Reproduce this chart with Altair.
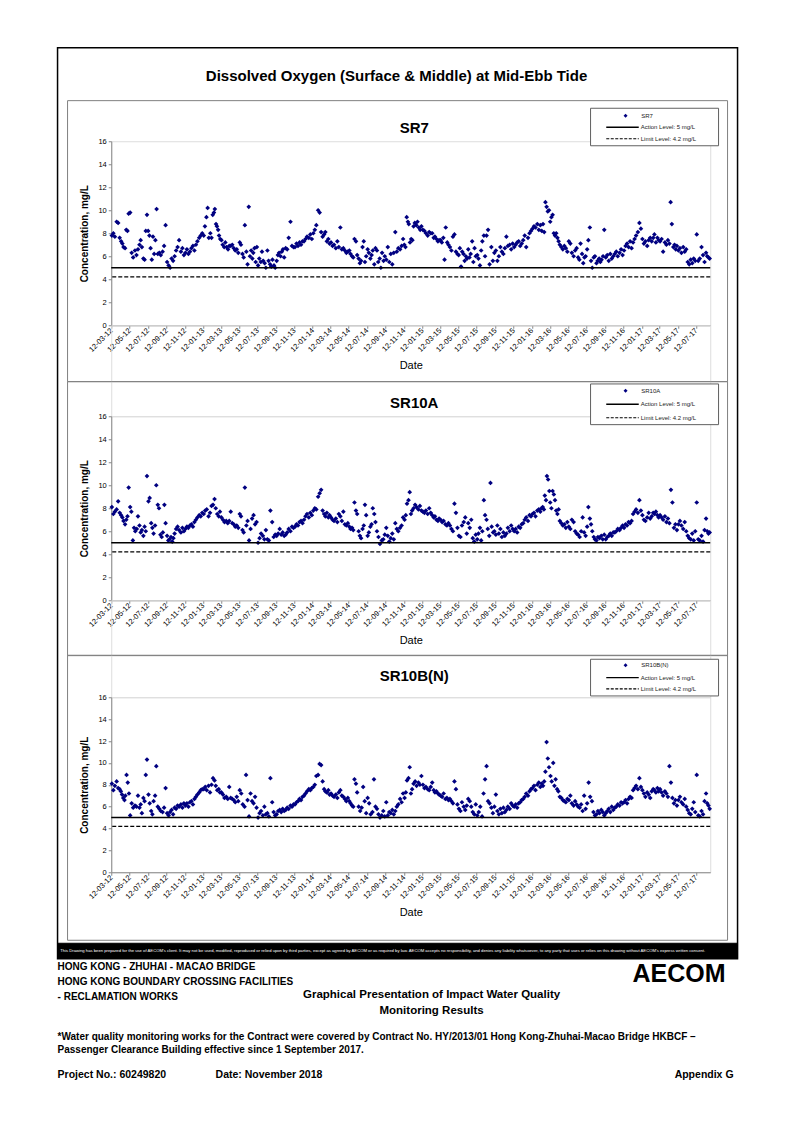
import altair as alt
import pandas as pd

FONT = "Liberation Sans"
NAVY = "#000080"

# ---------------- data ----------------
tick_dates = [
    "2012-03-12", "2012-05-12", "2012-07-12", "2012-09-12", "2012-11-12",
    "2013-01-12", "2013-03-12", "2013-05-12", "2013-07-12", "2013-09-12", "2013-11-12",
    "2014-01-12", "2014-03-12", "2014-05-12", "2014-07-12", "2014-09-12", "2014-11-12",
    "2015-01-12", "2015-03-12", "2015-05-12", "2015-07-12", "2015-09-12", "2015-11-12",
    "2016-01-12", "2016-03-12", "2016-05-12", "2016-07-12", "2016-09-12", "2016-11-12",
    "2017-01-12", "2017-03-12", "2017-05-12", "2017-07-12",
]
x_domain = ["2012-03-12", "2017-08-28"]
action_level = [5.0]
limit_level = [4.2]

# readings per month (month 0 = from 12-03-12), in date order within the month
sr7 = [
    [7.8, 8.0, 7.7, 9.0, 8.9, 7.6], [7.3, 7.1, 6.8, 6.7, 8.3, 8.2, 9.7], [9.8, 6.3, 5.9, 6.5, 6.1, 6.6],
    [7.0, 7.4, 6.8, 5.8, 5.7, 8.2, 9.6], [8.2, 7.8, 6.7, 5.7, 7.7, 6.2, 7.4, 10.1], [6.2, 6.3, 6.1, 6.4, 6.9, 8.7],
    [5.5, 5.2, 5.0, 5.8, 5.6, 6.0], [6.5, 6.8, 7.4, 6.4, 6.7, 6.1], [6.3, 6.6, 6.2, 6.4, 6.7, 6.9],
    [6.5, 7.0, 7.3, 7.6, 7.8, 8.0], [7.8, 8.6, 9.4, 10.2, 7.6, 8.0, 7.6], [9.6, 9.8, 10.1, 8.8, 8.6, 8.3, 7.8, 7.5],
    [7.4, 7.0, 6.8, 7.2, 6.8, 6.6, 6.9], [6.9, 7.0, 6.7, 6.5, 6.6, 6.3], [7.2, 7.0, 6.2, 5.9, 8.7, 6.4, 5.3],
    [10.3, 6.0, 6.5, 5.8, 6.3, 6.7, 5.5, 6.8], [5.2, 5.8, 5.5, 6.4, 5.6, 5.4, 5.0], [6.5, 5.6, 5.3, 5.1, 5.7, 5.2, 5.0],
    [5.6, 6.1, 6.3, 6.0, 6.4, 6.6, 5.9], [6.7, 6.6, 7.6, 9.0, 6.9, 6.8], [6.8, 7.1, 6.9, 7.2, 7.0, 7.3],
    [7.3, 7.5, 7.7, 7.6, 7.9, 7.5], [8.0, 8.3, 8.7, 10.0, 9.8, 8.1], [7.7, 7.9, 8.1, 7.3, 7.5, 7.1],
    [7.2, 6.9, 7.0, 6.7, 7.3, 6.8], [8.5, 6.6, 6.7, 6.5, 6.3, 6.4], [6.5, 6.2, 6.0, 5.9, 7.5, 7.3, 6.1],
    [5.8, 5.4, 5.6, 6.8, 7.3, 5.5, 6.0], [6.6, 6.3, 5.8, 6.1, 6.5, 5.3, 6.7], [6.5, 5.5, 5.8, 5.0, 6.3, 5.6, 6.0],
    [5.7, 6.8, 5.5, 6.2, 5.3, 6.3], [8.1, 6.4, 6.7, 6.6, 6.9, 7.5], [7.0, 6.8, 9.4, 9.0, 8.8, 7.2, 7.5, 7.4],
    [8.6, 8.9, 8.7, 9.0, 8.5, 8.3, 8.6], [8.3, 8.2, 8.0, 7.8, 8.1, 8.0], [8.0, 7.6, 7.7, 7.5, 7.3, 7.4],
    [7.4, 7.2, 7.6, 5.7, 8.5, 7.2, 7.0], [6.8, 6.5, 7.7, 7.9, 6.4, 6.2], [6.1, 6.7, 5.1, 6.4, 6.2, 5.6, 6.0, 5.8],
    [6.6, 5.9, 6.2, 7.3, 5.5, 6.7, 6.0], [6.1, 5.8, 5.2, 6.5, 7.3, 7.8, 6.0], [7.8, 8.3, 5.3, 6.8, 5.6, 6.3],
    [6.5, 5.6, 6.0, 6.8, 6.4, 6.2], [6.7, 7.7, 6.9, 7.0, 6.6, 7.1], [6.8, 7.0, 7.2, 7.3, 6.9, 7.1],
    [7.4, 7.8, 6.8, 7.6, 8.0, 8.2], [8.4, 8.6, 8.5, 8.8, 8.3, 8.7], [8.2, 8.8, 8.1, 10.7, 10.3, 9.9, 10.0],
    [9.0, 9.4, 9.6, 8.0, 7.8, 8.0, 7.6, 7.3], [7.0, 6.8, 6.6, 6.9, 6.7, 6.4], [7.3, 7.1, 6.3, 6.0, 6.5, 6.7],
    [5.9, 5.7, 7.1, 6.2, 5.4, 5.9, 6.0], [6.6, 7.4, 8.5, 5.6, 5.0, 5.9, 6.0], [5.4, 5.6, 5.8, 5.5, 5.7, 6.0, 8.3],
    [5.9, 6.1, 5.6, 6.2, 5.8, 6.0], [6.2, 6.4, 6.0, 6.3, 6.6, 6.1], [6.5, 6.9, 7.1, 6.8, 7.3, 6.7],
    [7.2, 7.5, 7.8, 8.1, 8.9, 8.4], [7.5, 7.1, 7.3, 6.9, 7.4, 7.6], [7.3, 7.6, 7.9, 7.2, 7.6, 7.4],
    [7.3, 7.5, 6.4, 7.2, 7.0, 7.4], [7.1, 10.7, 8.8, 6.8, 7.0, 6.6, 6.9], [6.5, 6.7, 6.3, 6.8, 6.4, 6.6],
    [5.5, 5.3, 5.7, 5.4, 5.8, 5.6], [7.9, 5.6, 5.8, 6.8, 6.1, 5.5], [6.3, 6.0, 5.9, 5.8],
]
sr10a = [
    [8.1, 7.5, 7.7, 7.9, 8.6, 7.6], [7.4, 7.2, 6.9, 6.6, 7.0, 7.3, 9.8], [8.1, 7.7, 5.2, 6.3, 6.0, 6.2, 7.3],
    [6.5, 5.9, 6.1, 5.6, 6.4, 6.0, 10.8], [8.6, 8.9, 6.7, 6.3, 5.8, 6.5, 10.0], [8.3, 8.0, 5.7, 5.5, 5.9, 8.3, 6.7],
    [5.6, 5.2, 5.3, 5.5, 5.1, 5.4, 5.8], [6.2, 6.4, 6.1, 5.9, 6.3, 6.0], [6.2, 6.4, 6.3, 6.5, 6.6, 6.4],
    [6.8, 7.0, 7.2, 7.4, 7.3, 7.6], [7.5, 7.8, 7.9, 7.3, 7.6, 8.2], [8.3, 8.8, 8.0, 7.5, 7.3, 7.7],
    [7.2, 7.0, 6.8, 6.9, 6.7, 6.9], [7.7, 6.7, 6.6, 6.4, 6.5, 6.3], [7.5, 7.3, 6.1, 5.9, 9.8, 6.5, 6.9],
    [5.2, 6.2, 7.1, 7.4, 6.6, 6.8], [5.0, 5.4, 5.8, 5.6, 5.3, 6.1], [5.3, 5.2, 7.8, 6.8, 5.5, 5.7],
    [5.6, 5.8, 6.2, 5.7, 5.9, 5.6], [5.7, 5.9, 6.2, 6.0, 6.4, 6.3], [6.4, 6.6, 6.5, 6.8, 6.9, 6.7],
    [7.0, 7.3, 7.5, 7.2, 7.6, 7.4], [7.8, 8.0, 7.9, 9.0, 9.3, 9.6], [7.8, 7.5, 7.3, 7.6, 7.2, 7.4],
    [7.2, 7.0, 6.9, 7.1, 6.8, 7.5], [7.3, 6.9, 7.7, 6.6, 6.5, 6.7], [6.4, 6.2, 6.3, 6.1, 8.5, 7.8, 7.5],
    [6.0, 5.6, 5.4, 6.2, 6.5, 8.3, 7.4], [5.6, 5.9, 6.4, 6.6, 8.0, 7.5, 6.8], [6.0, 5.5, 4.9, 5.2, 5.3, 5.7],
    [6.3, 5.6, 5.1, 5.4, 5.8, 5.3], [6.7, 6.2, 6.0, 6.3, 6.5, 7.2], [7.0, 7.4, 8.4, 8.7, 9.4, 7.5, 7.8],
    [8.0, 8.3, 8.1, 7.9, 8.2, 7.8], [7.7, 7.6, 7.8, 7.5, 8.0, 7.6], [7.4, 7.2, 7.3, 7.0, 6.9, 7.1],
    [7.0, 6.8, 6.9, 6.6, 6.5, 6.7], [6.5, 6.2, 6.0, 8.4, 7.6, 6.3], [5.6, 5.5, 6.5, 6.8, 7.2, 5.8],
    [6.7, 6.3, 7.0, 5.4, 5.1, 5.7], [5.3, 5.8, 6.3, 5.2, 6.0, 8.7, 7.4], [7.0, 6.2, 5.6, 10.2, 6.4, 5.9, 6.0],
    [5.7, 6.5, 5.8, 6.2, 5.5, 5.9], [5.6, 5.8, 6.3, 6.0, 6.5, 6.2], [6.0, 6.2, 5.9, 6.4, 6.3, 6.6],
    [6.7, 7.0, 7.2, 6.9, 7.4, 7.3], [7.5, 7.6, 7.3, 7.8, 7.9, 7.7], [8.0, 8.1, 7.9, 9.1, 8.7, 10.8, 10.5, 9.5],
    [8.5, 8.0, 9.5, 9.2, 8.7, 7.8, 7.5, 7.9], [6.9, 6.7, 6.5, 6.6, 6.3, 6.8], [6.4, 6.2, 7.0, 6.8, 6.0, 5.8],
    [5.7, 5.5, 6.0, 7.2, 5.9, 5.6], [6.4, 8.1, 7.1, 6.6, 6.0, 5.5, 5.3], [5.2, 5.5, 5.4, 5.6, 5.3, 5.7],
    [5.3, 5.5, 5.6, 5.8, 5.6, 5.9], [5.9, 6.0, 6.2, 6.1, 6.3, 6.5], [6.3, 6.6, 6.5, 6.8, 6.7, 6.9],
    [7.5, 7.7, 7.9, 7.6, 8.7, 7.8], [7.4, 7.0, 6.9, 7.2, 7.6, 7.1], [7.3, 7.6, 7.5, 7.7, 7.4, 7.2],
    [7.4, 7.2, 7.0, 7.3, 6.8, 7.1], [6.7, 9.6, 8.5, 6.3, 6.6, 6.1], [6.6, 6.9, 6.5, 6.2, 6.8, 6.0],
    [5.6, 5.4, 5.3, 5.8, 5.2, 6.0], [8.5, 5.3, 5.2, 5.6, 5.1, 6.1], [7.1, 6.0, 5.8, 5.9],
]
sr10b = [
    [8.1, 7.5, 7.9, 8.3, 7.7, 7.6], [7.4, 7.1, 6.8, 6.6, 7.0, 8.9, 8.2, 7.2], [5.2, 6.3, 5.9, 6.1, 6.0, 7.0],
    [5.9, 6.2, 5.4, 6.8, 6.5, 8.9, 10.3], [7.1, 6.3, 5.6, 5.3, 6.5, 7.0, 9.7], [6.0, 5.8, 5.6, 5.5, 5.9, 7.7],
    [5.4, 5.2, 5.5, 5.7, 5.3, 5.9], [5.8, 6.1, 6.0, 6.2, 5.9, 6.3], [6.1, 6.3, 6.0, 6.4, 6.5, 6.2],
    [6.7, 6.9, 7.1, 7.3, 7.5, 7.6], [7.6, 7.8, 7.5, 7.9, 7.3, 8.0], [8.6, 8.4, 7.9, 7.5, 7.6, 7.3],
    [7.3, 7.1, 6.8, 6.9, 6.7, 7.8], [6.8, 6.7, 6.6, 6.4, 6.9, 6.5], [7.5, 7.2, 6.2, 6.0, 8.9, 6.6],
    [5.1, 7.2, 6.5, 6.3, 6.9, 5.9], [5.0, 5.4, 5.6, 5.2, 6.0, 5.3], [5.4, 5.1, 8.6, 6.4, 5.5, 5.2],
    [5.3, 5.6, 5.7, 5.5, 5.8, 5.6], [5.7, 5.9, 5.8, 6.1, 6.0, 6.2], [6.2, 6.4, 6.5, 6.7, 6.6, 6.9],
    [7.0, 7.2, 7.4, 7.6, 7.5, 7.7], [7.8, 8.0, 8.8, 8.9, 9.9, 9.8], [8.3, 7.6, 7.4, 7.3, 7.5, 7.1],
    [7.2, 7.0, 6.9, 7.1, 6.8, 7.3], [7.5, 7.0, 6.9, 6.7, 6.5, 6.8], [6.5, 6.3, 6.1, 6.0, 8.5, 8.1, 7.3],
    [6.0, 5.6, 5.9, 7.8, 6.5, 5.4], [6.8, 6.3, 5.3, 5.5, 8.5, 6.0], [5.8, 5.3, 5.0, 5.2, 5.6, 5.1],
    [6.4, 5.2, 5.5, 5.4, 5.7, 5.3], [5.6, 6.0, 6.2, 6.7, 6.4, 7.2], [6.8, 7.3, 8.4, 8.6, 9.6, 7.2, 7.6],
    [8.1, 8.3, 7.9, 8.2, 8.0, 8.8], [8.0, 7.7, 7.8, 7.6, 7.5, 7.8], [8.2, 7.5, 7.3, 7.4, 7.2, 7.1],
    [7.0, 6.9, 7.2, 6.7, 6.8, 6.6], [6.7, 6.5, 6.3, 8.3, 7.6, 6.2], [5.8, 5.6, 6.4, 6.0, 5.7, 6.1],
    [6.7, 6.5, 6.0, 5.5, 5.3, 6.2], [5.2, 5.5, 6.0, 5.1, 7.2, 8.5], [9.7, 6.5, 6.3, 5.9, 5.4, 6.0],
    [7.1, 5.6, 5.3, 5.8, 5.4, 5.9], [5.5, 5.7, 6.0, 5.8, 6.3, 6.1], [6.0, 6.2, 5.9, 6.3, 6.4, 6.6],
    [6.7, 6.9, 7.2, 7.0, 7.4, 7.6], [7.7, 7.9, 7.5, 8.0, 8.2, 7.8], [8.1, 7.9, 8.3, 9.2, 11.9, 10.4, 9.6],
    [8.8, 8.3, 10.0, 7.9, 8.5, 7.6, 7.4], [6.9, 6.8, 6.6, 6.5, 6.4, 6.7], [6.6, 7.0, 6.3, 6.1, 6.5, 6.2],
    [6.0, 5.9, 6.2, 5.6, 7.0, 5.8], [6.3, 8.2, 6.9, 6.5, 5.5, 5.2], [5.3, 5.6, 5.4, 5.7, 5.5, 5.2],
    [5.4, 5.6, 5.8, 5.5, 6.0, 5.7], [5.9, 6.0, 6.2, 6.1, 6.4, 6.3], [6.4, 6.6, 6.3, 6.7, 6.9, 6.8],
    [7.5, 7.7, 7.9, 7.6, 8.6, 7.8], [7.5, 7.2, 6.9, 7.3, 7.1, 6.8], [7.4, 7.6, 7.5, 7.3, 7.7, 7.4],
    [7.6, 7.3, 7.0, 7.4, 7.2, 6.9], [9.7, 8.2, 6.8, 6.3, 6.6, 6.1], [6.6, 6.9, 6.4, 6.2, 6.7, 6.0],
    [5.7, 5.4, 5.3, 5.8, 6.4, 5.5], [8.9, 5.2, 5.1, 5.6, 5.3, 6.5], [7.2, 6.3, 6.1, 5.8],
]

disclaimer = ("This Drawing has been prepared for the use of AECOM's client. It may not be used, modified, "
              "reproduced or relied upon by third parties, except as agreed by AECOM or as required by law. "
              "AECOM accepts no responsibility, and denies any liability whatsoever, to any party that uses "
              "or relies on this drawing without AECOM's express written consent.")


# ---------------- helpers ----------------
def to_dt(s):
    y, m, d = (int(p) for p in s.split("-"))
    return alt.DateTime(year=y, month=m, date=d, utc=True)


def build(month_vals):
    start = pd.Timestamp(x_domain[0])
    end = pd.Timestamp(x_domain[1])
    rows = []
    for m, vals in enumerate(month_vals):
        s = start + pd.DateOffset(months=m)
        e = min(start + pd.DateOffset(months=m + 1), end)
        k = len(vals)
        for i, v in enumerate(vals):
            d = s + (e - s) * ((i + 0.5) / k)
            rows.append({"date": d.strftime("%Y-%m-%d"), "value": v})
    return pd.DataFrame(rows)


one = pd.DataFrame({"a": [0]})
W = 599

x_enc = alt.X(
    "date:T",
    scale=alt.Scale(type="utc", domain=[to_dt(x_domain[0]), to_dt(x_domain[1])], nice=False),
    axis=alt.Axis(values=[to_dt(t) for t in tick_dates],
                  labelExpr="utcFormat(datum.value, '%d-%m-%y')",
                  labelAngle=-45, labelAlign="right", labelBaseline="middle", labelFontSize=7.5,
                  labelPadding=1, tickSize=3, title="Date", titleFontSize=11, titleFontWeight="normal",
                  titlePadding=7, grid=False, labelOverlap=False),
)


def y_enc():
    return alt.Y(
        "value:Q",
        scale=alt.Scale(domain=[0, 16], nice=False),
        axis=alt.Axis(values=list(range(0, 17, 2)), labelFontSize=7.5, tickSize=3, labelPadding=2,
                      title="Concentration, mg/L", titleFontSize=10, titleFontWeight="bold",
                      titlePadding=8, grid=False),
    )


def txt(text, x, y, size, weight="normal", align="left", color="#000000", font=FONT):
    return alt.Chart(one).mark_text(text=text, fontSize=size, fontWeight=weight, align=align,
                                    baseline="middle", color=color, font=font).encode(
        x=alt.value(x), y=alt.value(y))


def box(x1, x2, y1, y2, stroke="#808080", sw=1.0, fill="#ffffff", fo=0.0):
    return alt.Chart(one).mark_rect(stroke=stroke, strokeWidth=sw, fill=fill, fillOpacity=fo).encode(
        x=alt.value(x1), x2=alt.value(x2), y=alt.value(y1), y2=alt.value(y2))


def hline(x1, x2, y, dash=None, sw=1.2):
    kw = {"color": "#000000", "strokeWidth": sw}
    if dash:
        kw["strokeDash"] = dash
    return alt.Chart(one).mark_rule(**kw).encode(x=alt.value(x1), x2=alt.value(x2), y=alt.value(y))


def panel(vals, name, height, title_y, border, leg_top, leg_bot, rows, extra=()):
    df = build(vals)
    pts = alt.Chart(df).mark_point(shape="diamond", filled=True, size=22, color=NAVY, opacity=1).encode(
        x=x_enc, y=y_enc())
    act = alt.Chart(pd.DataFrame({"value": action_level})).mark_rule(color="#000000", strokeWidth=1.5).encode(
        y=y_enc())
    lim = alt.Chart(pd.DataFrame({"value": limit_level})).mark_rule(
        color="#000000", strokeWidth=1.3, strokeDash=[4, 2]).encode(y=y_enc())
    layers = [
        box(-43.7, 616.3, border[0], border[1]),
        pts, act, lim,
        txt(name, 303, title_y, 15, "bold", "center"),
        box(479.3, 607.3, leg_top, leg_bot, stroke="#606060", fo=1.0),
        alt.Chart(one).mark_point(shape="diamond", filled=True, size=16, color=NAVY, opacity=1).encode(
            x=alt.value(514.3), y=alt.value(rows[0])),
        txt(name, 530, rows[0], 6, color="#222222"),
        hline(495, 527.5, rows[1], sw=1.3),
        txt("Action Level: 5 mg/L", 529.5, rows[1], 6, color="#222222"),
        hline(495, 527.5, rows[2], dash=[3, 1.5], sw=1.2),
        txt("Limit Level: 4.2 mg/L", 529.5, rows[2], 6, color="#222222"),
    ] + list(extra)
    return alt.layer(*layers).properties(width=W, height=height)


p1_extra = [
    box(-53.7, 626.3, -93.6, 817.4, stroke="#000000", sw=1.5),
    txt("Dissolved Oxygen (Surface & Middle) at Mid-Ebb Tide", 285.3, -65.6, 15, "bold", "center"),
]
p3_extra = [
    box(-53.7, 626.3, 246, 261, stroke="#000000", sw=1, fill="#000000", fo=1.0),
    txt(disclaimer, -51, 253.5, 4.2, color="#ffffff"),
    txt("HONG KONG - ZHUHAI - MACAO BRIDGE", -53.7, 270, 10, "bold"),
    txt("HONG KONG BOUNDARY CROSSING FACILITIES", -53.7, 285, 10, "bold"),
    txt("- RECLAMATION WORKS", -53.7, 300, 10, "bold"),
    txt("Graphical Presentation of Impact Water Quality", 320.3, 298, 11.5, "bold", "center"),
    txt("Monitoring Results", 320.3, 314, 11.5, "bold", "center"),
    txt("AECOM", 614.3, 277, 25, "bold", "right"),
    txt("*Water quality monitoring works for the Contract were covered by Contract No. HY/2013/01 "
        "Hong Kong-Zhuhai-Macao Bridge HKBCF \u2013", -53.7, 340, 10, "bold"),
    txt("Passenger Clearance Building effective since 1 September 2017.", -53.7, 353, 10, "bold"),
    txt("Project No.: 60249820", -53.7, 378, 10.5, "bold"),
    txt("Date: November 2018", 104.3, 378, 10.5, "bold"),
    txt("Appendix G", 622.3, 378, 10.5, "bold", "right"),
]

p1 = panel(sr7, "SR7", 184, -13.6, (-40.6, 240.4), -33, 4.5, (-25.5, -14, -2.5), p1_extra)
p2 = panel(sr10a, "SR10A", 184, -13.6, (-34.6, 239.4), -32.3, 8.4, (-25.6, -12, 1.5))
p3 = panel(sr10b, "SR10B(N)", 175, -21, (-42, 243), -38, -1.3, (-32, -19.7, -8.3), p3_extra)


def spacer(h):
    return alt.Chart(one).mark_point(opacity=0).encode(x=alt.value(0), y=alt.value(0)).properties(
        width=W, height=h)


chart = alt.vconcat(p1, spacer(91), p2, spacer(97), p3, spacing=0, bounds="flush").properties(
    padding={"left": 48.25, "top": 38.25, "right": 5, "bottom": 5}
).configure_view(strokeWidth=0).configure_axis(
    labelFont=FONT, titleFont=FONT, labelColor="#222222", titleColor="#000000",
    domainColor="#808080", tickColor="#808080"
).configure(background="#ffffff")

chart.save("out.html", embed_options={"renderer": "svg", "actions": False})
